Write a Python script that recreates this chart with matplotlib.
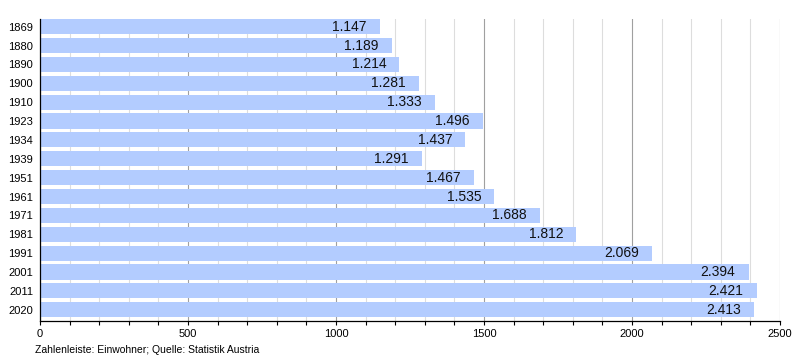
import matplotlib
matplotlib.use("Agg")
import matplotlib.pyplot as plt
from matplotlib.ticker import MultipleLocator

plt.rcParams['font.family'] = ['Liberation Sans', 'DejaVu Sans']

years = ['1869', '1880', '1890', '1900', '1910', '1923', '1934', '1939',
         '1951', '1961', '1971', '1981', '1991', '2001', '2011', '2020']
population = [1147, 1189, 1214, 1281, 1333, 1496, 1437, 1291,
              1467, 1535, 1688, 1812, 2069, 2394, 2421, 2413]

fig = plt.figure(figsize=(8, 3.6), dpi=100)
ax = fig.add_axes([0.05, 0.108, 0.925, 0.839])

pos = list(range(len(years)))
ax.barh(pos, population, height=0.8, color='#b3ccff', zorder=2)

# Werte rechtsbündig im Balken
for p, v in zip(pos, population):
    label = f'{v:,}'.replace(',', '.')
    ax.annotate(label, (v, p), xytext=(-9.5, 0), textcoords='offset points',
                ha='right', va='center', fontsize=10, color='#111111', zorder=3)

ax.set_xlim(0, 2500)
ax.set_ylim(15.6, -0.4)
ax.set_yticks(pos)
ax.set_yticklabels(years)
ax.xaxis.set_major_locator(MultipleLocator(500))
ax.xaxis.set_minor_locator(MultipleLocator(100))
ax.grid(axis='x', which='minor', color='#dddddd', linewidth=0.8, zorder=0)
ax.grid(axis='x', which='major', color='#a0a0a0', linewidth=0.8, zorder=0)
ax.set_axisbelow(True)

ax.tick_params(axis='x', which='both', direction='out', length=3, width=0.8,
               labelsize=8, pad=3)
ax.tick_params(axis='y', length=0, labelsize=8, pad=5)

for s in ['top', 'right']:
    ax.spines[s].set_visible(False)
ax.spines['left'].set_linewidth(0.9)
ax.spines['bottom'].set_linewidth(0.9)

fig.text(35 / 800, 1 - 350 / 360, 'Zahlenleiste: Einwohner; Quelle: Statistik Austria',
         fontsize=7.5, va='center', ha='left')

fig.savefig('out.png', dpi=100)
